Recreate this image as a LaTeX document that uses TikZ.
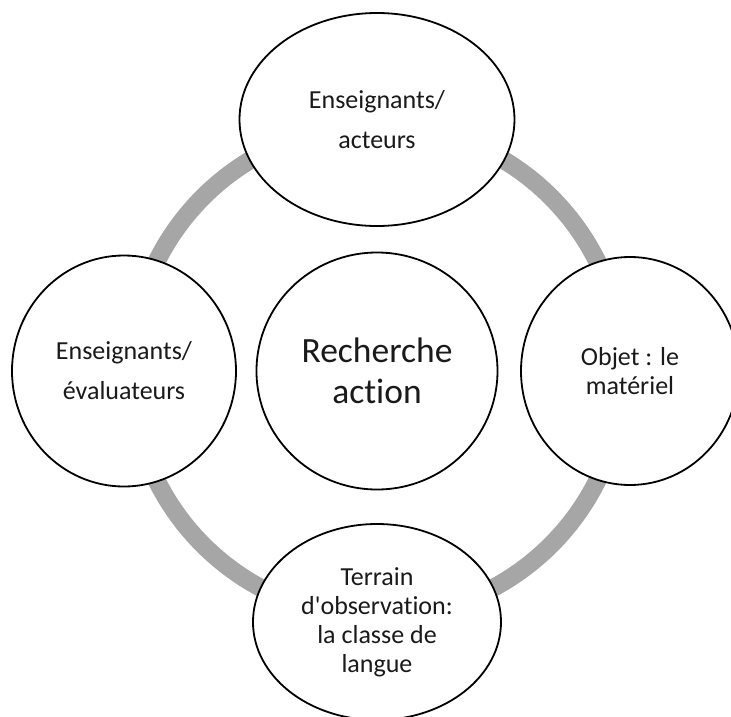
\documentclass[tikz,border=0pt]{standalone}
\usepackage{fontspec}
\setmainfont{Carlito}[Ligatures={NoCommon,TeXOff}]
\usetikzlibrary{shapes.geometric,calc}
\definecolor{ink}{HTML}{1A1A1A}
\definecolor{ringgray}{HTML}{A6A6A6}

\begin{document}
\begin{tikzpicture}[
  bubble/.style={ellipse, draw=black, line width=1.8pt, fill=white, inner sep=0pt, align=center, text=ink},
  roomy/.style={bubble, font=\fontsize{26}{40}\selectfont},
  snug/.style={bubble, font=\fontsize{26}{29}\selectfont},
  ring/.style={draw=ringgray, line width=18pt}
]
\useasboundingbox (-377pt,-345pt) rectangle (354pt,371pt);

% Ring behind the bubbles
\coordinate (hub) at (0,0);
\foreach \angle in {0,90,180,270}
  \draw[ring] ($(hub)+(\angle:246pt)$) arc[start angle=\angle, delta angle=90, radius=246pt];

% Central bubble
\node[bubble, minimum width=241pt, minimum height=237pt, font=\fontsize{35.5}{40.5}\selectfont] (recherche) at (hub) {Recherche\\action};

% Bubbles on the ring
\node[roomy, minimum width=275pt, minimum height=213pt] (acteurs) at ($(hub)+(90:251.5pt)$) {Enseignants/\\acteurs};
\node[roomy, minimum width=224pt, minimum height=231pt] (evaluateurs) at ($(hub)+(180:253pt)$) {Enseignants/\\évaluateurs};
\node[snug, minimum width=218pt, minimum height=228pt] (objet) at ($(hub)+(0:253pt)$) {Objet : le\\matériel};
\node[snug, minimum width=248pt, minimum height=196pt] (terrain) at ($(hub)+(270:251pt)$) {Terrain\\d'observation:\\la classe de\\langue};

\end{tikzpicture}
\end{document}
